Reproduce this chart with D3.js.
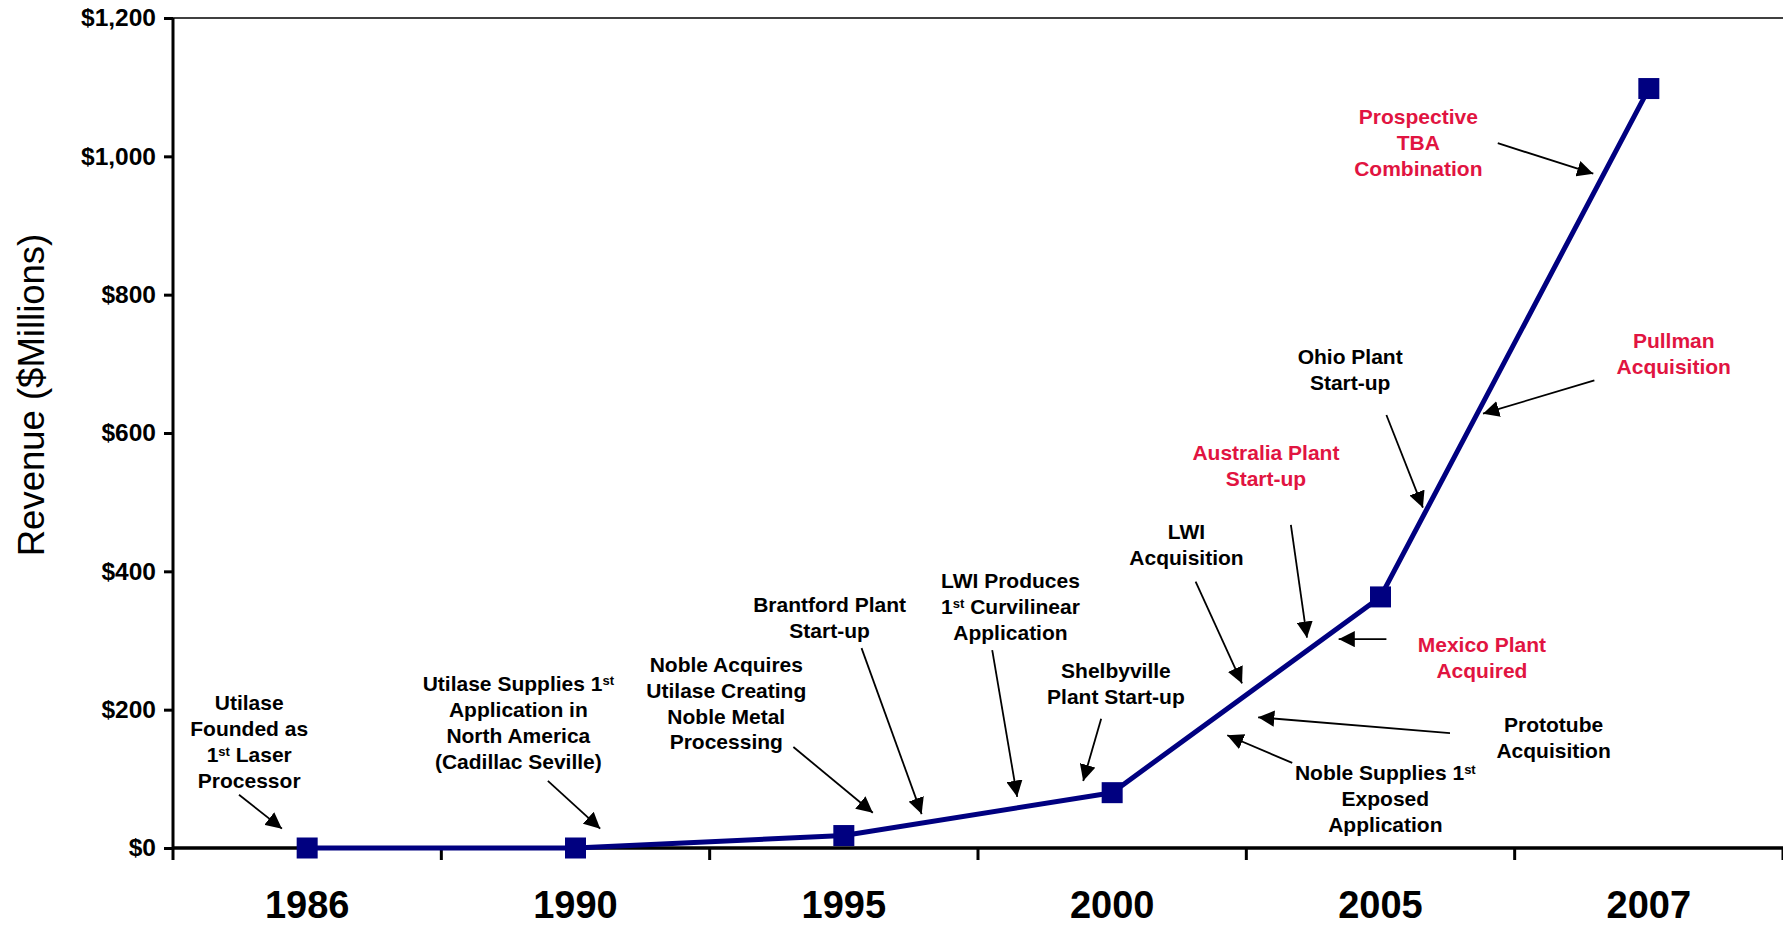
<!DOCTYPE html>
<html>
<head>
<meta charset="utf-8">
<script src="https://cdn.jsdelivr.net/npm/d3@7"></script>
<style>
  html, body { margin: 0; padding: 0; background: #fff; }
  svg { display: block; font-family: Arial, "Liberation Sans", sans-serif; }
</style>
</head>
<body>
<svg id="chart"></svg>
<script>
const years = ['1986', '1990', '1995', '2000', '2005', '2007'];
const revenue = [0, 0, 18, 80, 363, 1098];
const yTicks = [0, 200, 400, 600, 800, 1000, 1200];

// annotation text: x in category-index units, y in $M (first line), arrows from -> to
const notes = [
  { lines: ['Utilase', 'Founded as', '1|st| Laser', 'Processor'], x: -0.216, y: 210, red: false, from: [-0.254, 77], to: [-0.094, 28] },
  { lines: ['Utilase Supplies 1|st|', 'Application in', 'North America', '(Cadillac Seville)'], x: 0.787, y: 237, red: false, from: [0.897, 97], to: [1.092, 28] },
  { lines: ['Noble Acquires', 'Utilase Creating', 'Noble Metal', 'Processing'], x: 1.562, y: 265, red: false, from: [1.812, 146], to: [2.108, 51] },
  { lines: ['Brantford Plant', 'Start-up'], x: 1.947, y: 352, red: false, from: [2.066, 289], to: [2.290, 49] },
  { lines: ['LWI Produces', '1|st| Curvilinear', 'Application'], x: 2.621, y: 386, red: false, from: [2.553, 286], to: [2.646, 74] },
  { lines: ['Shelbyville', 'Plant Start-up'], x: 3.014, y: 256, red: false, from: [2.959, 187], to: [2.892, 97] },
  { lines: ['LWI', 'Acquisition'], x: 3.277, y: 457, red: false, from: [3.311, 385], to: [3.484, 238] },
  { lines: ['Australia Plant', 'Start-up'], x: 3.573, y: 572, red: true, from: [3.666, 467], to: [3.726, 304] },
  { lines: ['Ohio Plant', 'Start-up'], x: 3.887, y: 710, red: false, from: [4.022, 626], to: [4.158, 492] },
  { lines: ['Prospective', 'TBA', 'Combination'], x: 4.141, y: 1057, red: true, from: [4.437, 1019], to: [4.793, 975] },
  { lines: ['Pullman', 'Acquisition'], x: 5.093, y: 733, red: true, from: [4.797, 676], to: [4.382, 628] },
  { lines: ['Mexico Plant', 'Acquired'], x: 4.378, y: 294, red: true, from: [4.022, 302], to: [3.844, 302] },
  { lines: ['Prototube', 'Acquisition'], x: 4.645, y: 178, red: false, from: [4.259, 166], to: [3.544, 189] },
  { lines: ['Noble Supplies 1|st|', 'Exposed', 'Application'], x: 4.018, y: 108.5, red: false, from: [3.671, 123], to: [3.429, 163] }
];

const W = 1783, H = 925;
const margin = { top: 18, right: 0, bottom: 77, left: 173 };
const innerW = W - margin.left - margin.right;
const innerH = H - margin.top - margin.bottom;
const navy = '#000080';
const red = '#E11441';

const svg = d3.select('#chart').attr('width', W).attr('height', H);

const x = d3.scaleBand().domain(years).range([0, innerW]);
const xi = d3.scaleLinear().domain([-0.5, years.length - 0.5]).range([0, innerW]);
const y = d3.scaleLinear().domain([0, 1200]).range([innerH, 0]);

const defs = svg.append('defs');
defs.append('marker')
  .attr('id', 'arrow')
  .attr('viewBox', '0 0 10 10')
  .attr('refX', 10).attr('refY', 5)
  .attr('markerWidth', 9).attr('markerHeight', 9)
  .attr('markerUnits', 'strokeWidth')
  .attr('orient', 'auto')
  .append('path')
  .attr('d', 'M0,0 L10,5 L0,10 Z')
  .attr('fill', '#000');

const g = svg.append('g').attr('transform', `translate(${margin.left},${margin.top})`);

// top border
g.append('line')
  .attr('x1', 0).attr('x2', innerW)
  .attr('y1', 0).attr('y2', 0)
  .attr('stroke', '#000').attr('stroke-width', 1.5);

// y axis
const yAxis = g.append('g')
  .call(d3.axisLeft(y).tickValues(yTicks).tickSize(9).tickPadding(8)
    .tickFormat(d => '$' + d3.format(',')(d)));
yAxis.select('.domain').remove();
yAxis.selectAll('.tick line').attr('stroke', '#000').attr('stroke-width', 3);
yAxis.selectAll('text')
  .style('font-size', '24.5px').style('font-weight', 'bold').attr('fill', '#000');
g.append('line')
  .attr('x1', 0).attr('x2', 0).attr('y1', 0).attr('y2', innerH)
  .attr('stroke', '#000').attr('stroke-width', 3);

// x axis with ticks at category boundaries
const xAxis = g.append('g').attr('transform', `translate(0,${innerH})`);
xAxis.append('line')
  .attr('x1', 0).attr('x2', innerW)
  .attr('stroke', '#000').attr('stroke-width', 3.5);
xAxis.selectAll('.bound')
  .data(d3.range(years.length + 1))
  .enter().append('line')
  .attr('class', 'bound')
  .attr('x1', i => xi(i - 0.5)).attr('x2', i => xi(i - 0.5))
  .attr('y1', 0).attr('y2', 12)
  .attr('stroke', '#000').attr('stroke-width', 3);
xAxis.selectAll('.ylab')
  .data(years)
  .enter().append('text')
  .attr('class', 'ylab')
  .attr('x', d => x(d) + x.bandwidth() / 2)
  .attr('y', 57)
  .attr('dy', '0.35em')
  .attr('text-anchor', 'middle')
  .style('font-size', '38px').style('font-weight', 'bold')
  .text(d => d);

// y axis title
svg.append('text')
  .attr('transform', `translate(31,395) rotate(-90)`)
  .attr('text-anchor', 'middle')
  .attr('dy', '0.35em')
  .style('font-size', '36.5px')
  .text('Revenue ($Millions)');

// series line
const pts = years.map((d, i) => ({ year: d, value: revenue[i] }));
const line = d3.line()
  .x(d => x(d.year) + x.bandwidth() / 2)
  .y(d => y(d.value));

g.append('path')
  .datum(pts)
  .attr('d', line)
  .attr('fill', 'none')
  .attr('stroke', navy)
  .attr('stroke-width', 5)
  .attr('stroke-linejoin', 'round');

const ms = 21;
g.selectAll('.pt')
  .data(pts)
  .enter().append('rect')
  .attr('class', 'pt')
  .attr('x', d => x(d.year) + x.bandwidth() / 2 - ms / 2)
  .attr('y', d => y(d.value) - ms / 2)
  .attr('width', ms).attr('height', ms)
  .attr('fill', navy);

// annotations
const lineH = 25.8;
const ann = g.selectAll('.note')
  .data(notes)
  .enter().append('g')
  .attr('class', 'note');

ann.append('line')
  .attr('x1', d => xi(d.from[0])).attr('y1', d => y(d.from[1]))
  .attr('x2', d => xi(d.to[0])).attr('y2', d => y(d.to[1]))
  .attr('stroke', '#000').attr('stroke-width', 1.8)
  .attr('marker-end', 'url(#arrow)');

ann.each(function (d) {
  const t = d3.select(this).append('text')
    .attr('text-anchor', 'middle')
    .style('font-size', '21px')
    .style('font-weight', 'bold')
    .attr('fill', d.red ? red : '#000');
  d.lines.forEach((ln, i) => {
    const parts = ln.split('|');
    const row = t.append('tspan')
      .attr('x', xi(d.x))
      .attr('y', y(d.y) + i * lineH)
      .attr('dy', '0.35em');
    parts.forEach((p, j) => {
      if (!p) return;
      if (j % 2 === 1) {
        row.append('tspan')
          .style('font-size', '13px')
          .attr('baseline-shift', '45%')
          .text(p);
      } else {
        row.append('tspan').text(p);
      }
    });
  });
});
</script>
</body>
</html>
